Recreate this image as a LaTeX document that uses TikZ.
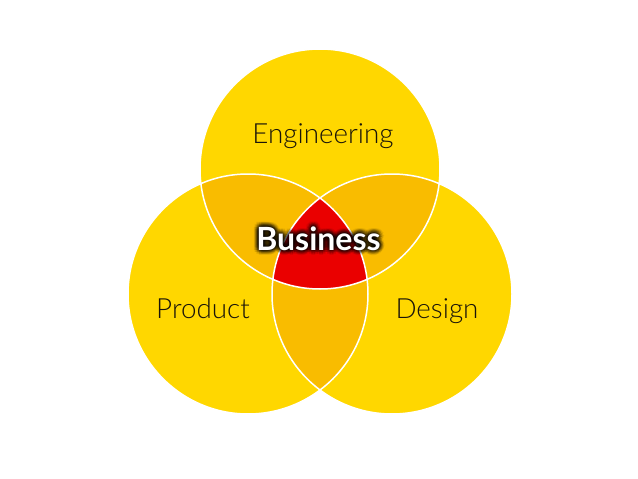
\documentclass[tikz,border=0pt]{standalone}
\usepackage{fontspec}
\IfFontExistsTF{Lato Light}{\setmainfont{Lato Light}[BoldFont=Lato Bold]}{\setmainfont{Lato}}
\newfontfamily\bizfam{Lato}
\definecolor{venny}{RGB}{255,215,0}
\definecolor{vennor}{RGB}{249,188,0}
\definecolor{vennred}{RGB}{234,0,0}
\definecolor{ink}{RGB}{25,20,10}
\begin{document}
\begin{tikzpicture}[x=1pt,y=-1pt,
  lbl/.style={text=ink, font=\fontsize{27.8}{33}\selectfont, anchor=base, inner sep=0pt},
  bizfont/.style={font=\bizfam\fontsize{32}{38}\selectfont\bfseries, anchor=base, inner sep=0pt},
  edge/.style={white, line width=1.5pt}]
\useasboundingbox[fill=white] (0,0) rectangle (638,479);
\def\R{120pt}
\coordinate (T) at (320,169);
\coordinate (L) at (248,294);
\coordinate (Rt) at (392,294);
\fill[venny] (T) circle[radius=\R] (L) circle[radius=\R] (Rt) circle[radius=\R];
\begin{scope}
  \clip (T) circle[radius=\R];
  \fill[vennor] (L) circle[radius=\R] (Rt) circle[radius=\R];
\end{scope}
\begin{scope}
  \clip (L) circle[radius=\R];
  \fill[vennor] (Rt) circle[radius=\R];
\end{scope}
\begin{scope}
  \clip (T) circle[radius=\R];
  \clip (L) circle[radius=\R];
  \fill[vennred] (Rt) circle[radius=\R];
\end{scope}
\draw[edge] (T) circle[radius=\R] (L) circle[radius=\R] (Rt) circle[radius=\R];
\node[lbl] (eng) at (323,143) {Engineering};
\node[lbl] (prod) at (203,318) {Product};
\node[lbl] (des) at (437,318) {Design};
\foreach \a in {0,30,...,330}
  \foreach \r in {1,2,3,4,5}
    \node[bizfont, text=black, opacity=0.08, shift={(\a:\r pt)}] (glow\a x\r) at (318.5,250) {Business};
\node[bizfont, text=white] (biz) at (318.5,250) {Business};
\end{tikzpicture}
\end{document}
